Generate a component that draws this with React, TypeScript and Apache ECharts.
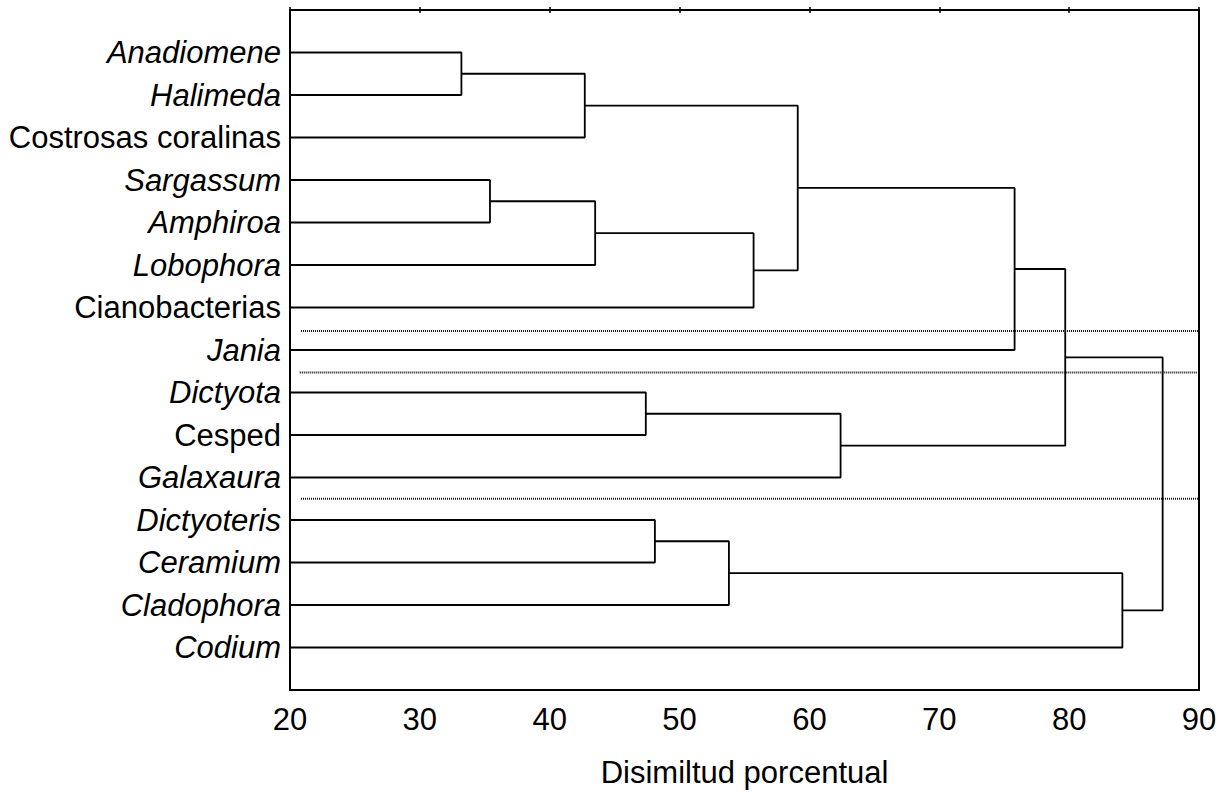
import React, { useEffect, useRef } from "react";
import * as echarts from "echarts";

// Leaves (top to bottom)
const leaves = [
  "Anadiomene",
  "Halimeda",
  "Costrosas coralinas",
  "Sargassum",
  "Amphiroa",
  "Lobophora",
  "Cianobacterias",
  "Jania",
  "Dictyota",
  "Cesped",
  "Galaxaura",
  "Dictyoteris",
  "Ceramium",
  "Cladophora",
  "Codium",
];
const italicLeaf = [true, true, false, true, true, true, false, true, true, false, true, true, true, true, true];

// Merges: [left node, right node, dissimilarity]; leaves are 0..14, clusters numbered from 15
const merges: [number, number, number][] = [
  [0, 1, 33.2],
  [15, 2, 42.7],
  [3, 4, 35.4],
  [17, 5, 43.5],
  [18, 6, 55.7],
  [16, 19, 59.1],
  [20, 7, 75.8],
  [8, 9, 47.4],
  [22, 10, 62.4],
  [21, 23, 79.7],
  [11, 12, 48.1],
  [25, 13, 53.8],
  [26, 14, 84.1],
  [24, 27, 87.2],
];

// Dotted separator lines
const dividerPos = [7.55, 8.53, 11.5];
const dividerStart = [20.85, 20.75, 20.85];
const dividerEnd = [90, 89.85, 90];

const xTicks = { min: 20, max: 90, interval: 10 };
const xTitle = "Disimiltud porcentual";

const FONT = "'Liberation Sans', Arial, sans-serif";

export default function App() {
  const ref = useRef<HTMLDivElement>(null);
  useEffect(() => {
    if (!ref.current) return;
    const chart = echarts.init(ref.current, undefined, { renderer: "svg" });

    const pos: number[] = leaves.map((_, i) => i + 1);
    const hgt: number[] = leaves.map(() => xTicks.min);
    const series: any[] = [];
    merges.forEach(([a, b, h], k) => {
      const p = (pos[a] + pos[b]) / 2;
      pos.push(p);
      hgt.push(h);
      series.push({
        type: "line",
        name: "m" + k,
        symbol: "none",
        silent: true,
        lineStyle: { color: "#000", width: 1.8 },
        data: [
          [hgt[a], pos[a]],
          [h, pos[a]],
          [h, pos[b]],
          [hgt[b], pos[b]],
        ],
      });
    });
    dividerPos.forEach((y, k) => {
      series.push({
        type: "line",
        name: "d" + k,
        symbol: "none",
        silent: true,
        lineStyle: { color: "#111", width: 2, type: [1, 1] },
        data: [
          [dividerStart[k], y],
          [dividerEnd[k], y],
        ],
      });
    });

    chart.setOption({
      animation: false,
      backgroundColor: "#fff",
      grid: {
        left: 290,
        right: 30,
        top: 10,
        bottom: 102,
        show: true,
        borderColor: "#000",
        borderWidth: 2,
        backgroundColor: "transparent",
      },
      xAxis: [
        {
          type: "value",
          position: "bottom",
          min: xTicks.min,
          max: xTicks.max,
          interval: xTicks.interval,
          splitLine: { show: false },
          axisLine: { show: false },
          axisTick: { show: true, inside: true, length: 3, lineStyle: { color: "#000", width: 1.5 } },
          axisLabel: { fontSize: 31, color: "#000", fontFamily: FONT, margin: 14 },
          name: xTitle,
          nameLocation: "middle",
          nameGap: 67,
          nameTextStyle: { fontSize: 31, color: "#000", fontFamily: FONT },
        },
        {
          type: "value",
          position: "top",
          min: xTicks.min,
          max: xTicks.max,
          interval: xTicks.interval,
          splitLine: { show: false },
          axisLine: { show: false },
          axisTick: { show: true, inside: true, length: 3, lineStyle: { color: "#000", width: 1.5 } },
          axisLabel: { show: false },
        },
      ],
      yAxis: {
        type: "value",
        inverse: true,
        min: 0,
        max: leaves.length + 1,
        interval: 1,
        splitLine: { show: false },
        axisLine: { show: false },
        axisTick: { show: false },
        axisLabel: {
          margin: 9,
          formatter: (v: number) => {
            const name = leaves[v - 1];
            if (!name) return "";
            return (italicLeaf[v - 1] ? "{i|" : "{n|") + name + "}";
          },
          rich: {
            i: { fontSize: 31, fontStyle: "italic", color: "#000", fontFamily: FONT },
            n: { fontSize: 31, color: "#000", fontFamily: FONT },
          },
        },
      },
      series,
    });
    return () => chart.dispose();
  }, []);
  return (
    <div
      ref={ref}
      style={{ position: "absolute", left: 0, top: 0, width: 1229, height: 793, background: "#fff" }}
    />
  );
}
